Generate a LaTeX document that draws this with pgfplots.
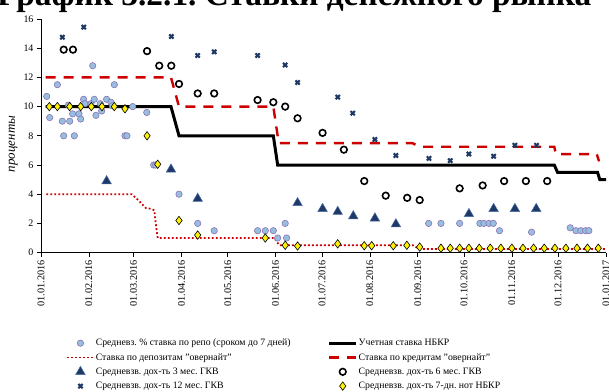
\documentclass[border=0pt]{standalone}
\usepackage{fontspec}
\setmainfont{Liberation Serif}
\usepackage{pgfplots}
\pgfplotsset{compat=1.18}
\definecolor{navy}{RGB}{31,56,100}
\definecolor{navyedge}{RGB}{70,110,170}
\definecolor{repofill}{RGB}{150,190,222}
\definecolor{repoedge}{RGB}{140,115,180}
\definecolor{redl}{RGB}{204,0,0}
\newcommand{\lw}[1]{\makebox[231bp][l]{#1}}
\begin{document}
\frenchspacing
\begin{tikzpicture}
\begin{axis}[
  at={(0,0)}, anchor=south west,
  scale only axis, width=565bp, height=233.6bp,
  xmin=0, xmax=366, ymin=0, ymax=16,
  axis x line*=bottom, axis y line*=left,
  axis line style={black, line width=0.8bp, -},
  xtick={0,31,60,91,121,152,182,213,244,274,305,335,366},
  xticklabels={01.01.2016,01.02.2016,01.03.2016,01.04.2016,01.05.2016,01.06.2016,01.07.2016,01.08.2016,01.09.2016,01.10.2016,01.11.2016,01.12.2016,01.01.2017},
  xticklabel style={rotate=90, anchor=east, font=\fontsize{10.3}{12}\selectfont},
  ytick={0,2,...,16},
  yticklabel style={font=\fontsize{10}{12}\selectfont},
  /pgf/number format/assume math mode=true,
  tick align=outside, major tick length=4bp,
  tick style={black, line width=0.6bp},
  ylabel={проценты},
  ylabel style={at={(axis description cs:-0.049,0.465)}, anchor=center, font=\itshape\fontsize{13}{15}\selectfont},
  clip=false,
  legend columns=2,
  legend cell align=left,
  legend image code/.code={\draw[mark repeat=2,mark phase=2,#1] plot coordinates {(0cm,0cm) (0.475cm,0cm) (0.95cm,0cm)};},
  legend style={at={(axis description cs:0.044,-0.3564)}, anchor=north west, draw=none, fill=none,
    inner sep=0pt, row sep=0pt, font=\fontsize{9.8}{12}\selectfont,
    nodes={inner xsep=1bp, inner ysep=1.9bp, text height=8bp, text depth=2.5bp}},
]
% repo
\addplot[only marks, mark=*, mark size=3.2bp, mark options={fill=repofill, draw=repoedge, line width=0.6bp}] coordinates {
(3.7,10.7) (5.6,9.25) (10.6,11.5) (13.8,9.0) (14.7,8.0) (17.7,10.1) (18.6,9.0) (20.5,9.5) (21.6,8.0) (24.6,9.5) (25.7,9.15) (27.6,10.5) (28.5,10.2) (32.4,10.2) (33.5,12.8) (34.5,10.5) (35.6,9.4) (38.4,10.2) (39.3,9.7) (42.5,10.5) (45.3,10.3) (46.2,10.05) (47.5,11.5) (54.4,8.0) (55.7,8.0) (59.4,10.0) (68.5,9.6) (73,6.0) (74.3,6.0) (89.4,4.0) (101.5,2.0) (112.2,1.5) (140.3,1.5) (145.3,1.5) (150.5,1.5) (153.3,1.0) (158.2,2.0) (159.1,1.0) (251.1,2.0) (259.1,2.0) (271.2,2.0) (284.3,2.0) (286.9,2.0) (290.2,2.0) (293,2.0) (297,1.5) (317.8,1.4) (342.8,1.7) (346.5,1.5) (349.7,1.5) (352.8,1.5) (354.9,1.5)
};
\addlegendentry{\lw{Средневз. \% ставка по репо (сроком до 7 дней)}}
% discount rate
\addplot[black, line width=3bp, no markers] coordinates {
(3,10) (84.2,10) (89.4,8) (150.5,8) (153.3,6) (332.5,6) (334.6,5.5) (360.5,5.5) (362,5) (366,5)
};
\addlegendentry{Учетная ставка НБКР}
% deposit overnight
\addplot[redl, line width=1.8bp, dash pattern=on 1.8bp off 2.2bp, no markers] coordinates {
(3.5,4) (58.7,4) (63,3.6) (65.6,3.3) (68,3.05) (71.2,3.0) (73.4,2.9) (74.3,2.0) (75.6,1.0) (151.3,1.0) (153,0.7) (154.5,0.5) (241,0.5) (245,0.25) (366,0.25)
};
\addlegendentry{\lw{Ставка по депозитам "овернайт"}}
% credit overnight
\addplot[redl, line width=2.4bp, dash pattern=on 10bp off 8bp, no markers] coordinates {
(3,12) (84.2,12) (89.4,10) (150.5,10) (154,7.5) (240.5,7.5) (245.3,7.25) (332.5,7.25) (333.5,6.75) (360,6.75) (361.5,6.25)
};
\addlegendentry{Ставка по кредитам "овернайт"}
% 3 month
\addplot[only marks, mark=triangle*, mark size=5.5bp, mark options={fill=navy, draw=navyedge, line width=0.5bp}] coordinates {
(42.5,4.9) (84.2,5.7) (101.5,3.7) (166.2,3.4) (182.4,3.0) (192.2,2.8) (202.3,2.5) (216.3,2.35) (229.9,1.95) (277.2,2.65) (293.2,3.0) (307,3.0) (320.8,3.0)
};
\addlegendentry{\lw{Средневзв. дох-ть 3 мес. ГКВ}}
% 6 month
\addplot[only marks, mark=o, mark size=3.3bp, mark options={draw=black, fill=white, line width=1.6bp}] coordinates {
(14.7,13.9) (20.7,13.9) (68.7,13.8) (76.6,12.8) (84.4,12.8) (89.4,11.55) (101.5,10.9) (112.2,10.9) (140.3,10.45) (150.5,10.3) (158.2,10.0) (166.2,9.2) (182.4,8.2) (196.2,7.05) (209.4,4.9) (223.3,3.9) (237.2,3.75) (245.3,3.6) (271.2,4.4) (286.1,4.6) (300,4.9) (314.1,4.9) (327.9,4.9)
};
\addlegendentry{Средневзв. дох-ть 6 мес. ГКВ}
% 12 month
\addplot[only marks, mark=x, mark size=3bp, mark options={draw=navy, line width=2.1bp}] coordinates {
(13.8,14.75) (27.7,15.45) (84.4,14.8) (101.5,13.5) (112.2,13.75) (140.3,13.5) (158.2,12.85) (166.2,11.65) (192.2,10.65) (201.9,9.55) (216.3,7.75) (229.9,6.65) (251.3,6.45) (265.1,6.3) (277.2,6.75) (293.2,6.6) (307,7.35) (321,7.35)
};
\addlegendentry{\lw{Средневзв. дох-ть 12 мес. ГКВ}}
% 7-day notes
\addplot[only marks, mark=diamond*, mark size=4.2bp, mark options={fill=yellow, draw=black, line width=0.6bp}] coordinates {
(5.4,10) (10.6,10) (18.6,10) (25.7,10) (32.6,10) (39.5,10) (47.5,10) (54.4,9.85) (68.7,8.0) (75.6,6.05) (89.4,2.2) (101.5,1.2) (145.3,1.0) (158.2,0.5) (166.2,0.45) (192.2,0.6) (209.4,0.47) (214.2,0.47) (228.2,0.47) (237,0.5) (245.3,0.38) (259.1,0.3) (265.1,0.3) (271.2,0.3) (277.2,0.3) (283.9,0.3) (291,0.3) (297.9,0.3) (305,0.3) (312.2,0.3) (319.1,0.3) (326,0.3) (332.9,0.3) (340,0.3) (347.2,0.3) (354,0.3) (361,0.3)
};
\addlegendentry{Средневзв. дох-ть 7-дн. нот НБКР}
\end{axis}
\node[anchor=base west, inner sep=0pt, font=\bfseries\fontsize{33.5}{36}\selectfont] at (-44bp,246.6bp) {График 3.2.1. Ставки денежного рынка};
\pgfresetboundingbox
\path[use as bounding box] (-41bp,-139.4bp) rectangle (568bp,252.6bp);
\end{tikzpicture}
\end{document}
